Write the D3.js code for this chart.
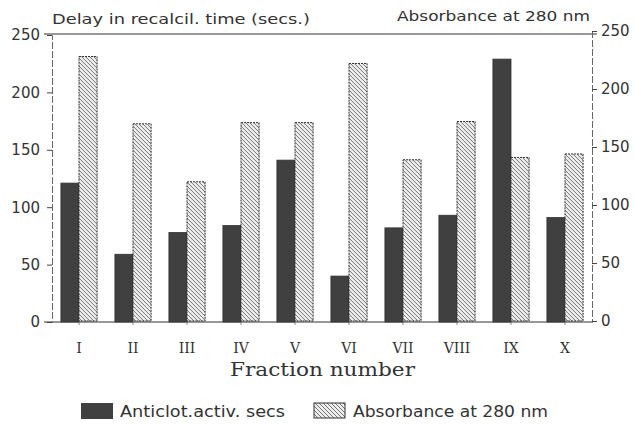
<!DOCTYPE html>
<html>
<head>
<meta charset="utf-8">
<script src="https://cdn.jsdelivr.net/npm/d3@7"></script>
<style>
  body { margin: 0; background: #fff; }
  svg { display: block; }
  text { font-family: "DejaVu Sans", sans-serif; fill: #333; }
</style>
</head>
<body>
<div id="chart"></div>
<script>
// fractions and the two measured series
const fractions = ["I", "II", "III", "IV", "V", "VI", "VII", "VIII", "IX", "X"];
const anticlotSecs = [121, 59, 78, 84, 141, 40, 82, 93, 229, 91];
const absorbance280 = [228, 170, 120, 171, 171, 222, 139, 172, 141, 144];
const leftTicks = [0, 50, 100, 150, 200, 250];
const rightTicks = [0, 50, 100, 150, 200, 250];

let width = 634, height = 428;

let svg = d3.select("#chart").append("svg")
    .attr("width", width)
    .attr("height", height);

// hatch pattern for the absorbance bars
let defs = svg.append("defs");
let pat = defs.append("pattern")
    .attr("id", "hatch")
    .attr("patternUnits", "userSpaceOnUse")
    .attr("width", 4)
    .attr("height", 4);
pat.append("rect").attr("width", 4).attr("height", 4).attr("fill", "#eeeeee");
pat.append("path")
    .attr("d", "M-1,-1 L5,5 M-1,3 L1,5 M3,-1 L5,1")
    .attr("stroke", "#555")
    .attr("stroke-width", 0.8);

let data = fractions.map(function (f, i) {
    return { name: f, secs: anticlotSecs[i], abs: absorbance280[i] };
});

let x0 = d3.scaleBand().domain(fractions).range([52, 592])
    .paddingInner(0.33).paddingOuter(0.165);
let x1 = d3.scaleBand().domain(["secs", "abs"]).range([0, x0.bandwidth()]);
let yL = d3.scaleLinear().domain([0, 250]).range([322, 35]);
let yR = d3.scaleLinear().domain([0, 250]).range([321, 31]);

// frame lines
svg.append("line").attr("x1", 44).attr("x2", 597).attr("y1", 34).attr("y2", 34)
    .attr("stroke", "#333").attr("stroke-width", 1.2);
svg.append("line").attr("x1", 44).attr("x2", 593).attr("y1", 322).attr("y2", 322)
    .attr("stroke", "#333").attr("stroke-width", 1.2);

// left axis
let gl = svg.append("g").attr("transform", "translate(52,0)")
    .call(d3.axisLeft(yL).tickValues(leftTicks).tickSize(5).tickPadding(7));
gl.select(".domain").attr("stroke", "#666").attr("stroke-dasharray", "7,2");
gl.selectAll(".tick line").attr("stroke", "#444");
gl.selectAll("text").style("font-size", "15px").attr("fill", "#333");

// right axis
let gr = svg.append("g").attr("transform", "translate(592,0)")
    .call(d3.axisRight(yR).tickValues(rightTicks).tickSize(5).tickPadding(4));
gr.select(".domain").attr("stroke", "#666").attr("stroke-dasharray", "7,2");
gr.selectAll(".tick line").attr("stroke", "#444");
gr.selectAll("text").style("font-size", "15px").attr("fill", "#333");

// bottom axis
let gb = svg.append("g").attr("transform", "translate(0,322)")
    .call(d3.axisBottom(x0).tickSize(3).tickPadding(18));
gb.select(".domain").remove();
gb.selectAll(".tick line").attr("stroke", "#888");
gb.selectAll("text").style("font-family", "'DejaVu Serif', serif")
    .style("font-size", "14px").attr("fill", "#333");

// bars
let grp = svg.selectAll(".fraction")
    .data(data)
    .enter()
    .append("g")
    .attr("class", "fraction")
    .attr("transform", function (d) { return "translate(" + x0(d.name) + ",0)"; });

grp.append("rect")
    .attr("x", x1("secs"))
    .attr("width", x1.bandwidth())
    .attr("y", function (d) { return yL(d.secs); })
    .attr("height", function (d) { return yL(0) - yL(d.secs); })
    .attr("fill", "#404040")
    .attr("stroke", "#333")
    .attr("stroke-width", 0.8);

grp.append("rect")
    .attr("x", x1("abs"))
    .attr("width", x1.bandwidth())
    .attr("y", function (d) { return yR(d.abs); })
    .attr("height", function (d) { return yR(0) - yR(d.abs); })
    .attr("fill", "url(#hatch)")
    .attr("stroke", "#333")
    .attr("stroke-width", 1)
    .attr("stroke-dasharray", "2,1");

// axis titles
svg.append("text").attr("x", 52).attr("y", 24)
    .attr("textLength", 258).attr("lengthAdjust", "spacingAndGlyphs")
    .style("font-size", "14px")
    .text("Delay in recalcil. time (secs.)");

svg.append("text").attr("x", 397).attr("y", 21)
    .attr("textLength", 193).attr("lengthAdjust", "spacingAndGlyphs")
    .style("font-size", "14px")
    .text("Absorbance at 280 nm");

svg.append("text").attr("x", 230).attr("y", 376)
    .attr("textLength", 185).attr("lengthAdjust", "spacingAndGlyphs")
    .style("font-family", "'DejaVu Serif', serif")
    .style("font-size", "19px")
    .text("Fraction number");

// legend
svg.append("rect").attr("x", 81).attr("y", 403).attr("width", 32).attr("height", 16)
    .attr("fill", "#404040");
svg.append("text").attr("x", 120).attr("y", 417)
    .attr("textLength", 165).attr("lengthAdjust", "spacingAndGlyphs")
    .style("font-size", "15px")
    .text("Anticlot.activ. secs");

svg.append("rect").attr("x", 314).attr("y", 403).attr("width", 31).attr("height", 15)
    .attr("fill", "url(#hatch)").attr("stroke", "#333").attr("stroke-width", 1);
svg.append("text").attr("x", 353).attr("y", 417)
    .attr("textLength", 195).attr("lengthAdjust", "spacingAndGlyphs")
    .style("font-size", "15px")
    .text("Absorbance at 280 nm");
</script>
</body>
</html>
